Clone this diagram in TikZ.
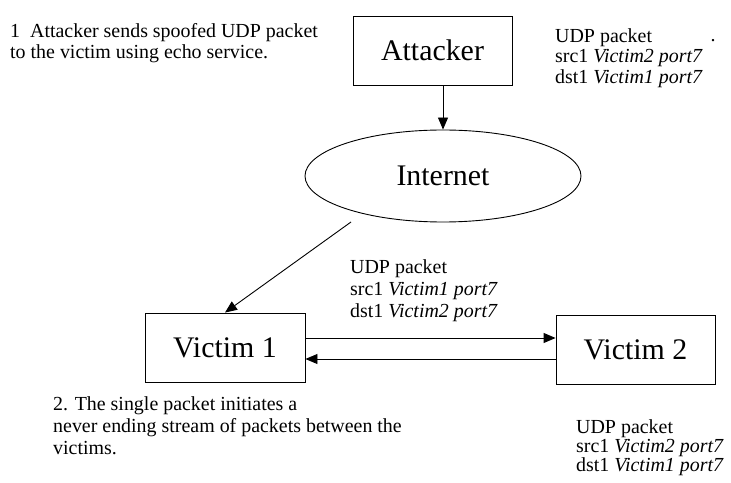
\documentclass[tikz,border=0pt]{standalone}
\usepackage{fontspec}
\setmainfont{Liberation Serif}
\usetikzlibrary{shapes.geometric,arrows.meta}

\tikzset{
  hostbox/.style={draw, line width=0.9bp, inner sep=0pt, font=\fontsize{30}{34}\selectfont},
  cloud/.style={draw, line width=0.9bp, ellipse, inner sep=0pt, minimum width=276bp, minimum height=92bp, font=\fontsize{30}{34}\selectfont},
  note/.style={align=left, anchor=north west, inner sep=0pt, font=\fontsize{20}{#1}\selectfont},
  note/.default=21,
  pkt/.style={line width=0.9bp, -{Triangle[length=12bp,width=10bp]}}
}

\begin{document}
\begin{tikzpicture}[x=1bp,y=-1bp]
      \useasboundingbox (0,0) rectangle (731,483);

      \node[hostbox, minimum width=159bp, minimum height=69bp] (att) at (432.5, 50.5) {Attacker};
      \node[cloud] (net) at (443, 176) {Internet};
      \node[hostbox, minimum width=160bp, minimum height=69bp] (v1) at (225, 347.5) {Victim 1};
      \node[hostbox, minimum width=159bp, minimum height=69bp] (v2) at (635.5, 349.5) {Victim 2};
      \coordinate (out) at (351, 222);

      \node[note] (step1) at (10, 23) {1\hspace{10bp}Attacker sends spoofed UDP packet\\to the victim using echo service.};
      \node[note] (pkt1) at (555, 28) {UDP packet\\src1 \textit{Victim2 port7}\\dst1 \textit{Victim1 port7}};
      \node[note, anchor=base] (dot) at (713, 42) {.};
      \node[note=22.5] (pkt2) at (350, 259) {UDP packet\\src1 \textit{Victim1 port7}\\dst1 \textit{Victim2 port7}};
      \node[note=19.5] (pkt3) at (576, 419) {UDP packet\\src1 \textit{Victim2 port7}\\dst1 \textit{Victim1 port7}};
      \node[note=22.5] (step2) at (53, 396) {2. The single packet initiates a\\never ending stream of packets between the\\victims.};

      \draw[pkt] (net.north |- att.south) to (net.north);
      \draw[pkt] (out) to (v1.north);
      \draw[pkt] ([yshift=9.5bp]v1.east) to ([yshift=9.5bp]v1.east -| v2.west);
      \draw[pkt] ([yshift=-11.5bp]v1.east -| v2.west) to ([yshift=-11.5bp]v1.east);
    \end{tikzpicture}
\end{document}
